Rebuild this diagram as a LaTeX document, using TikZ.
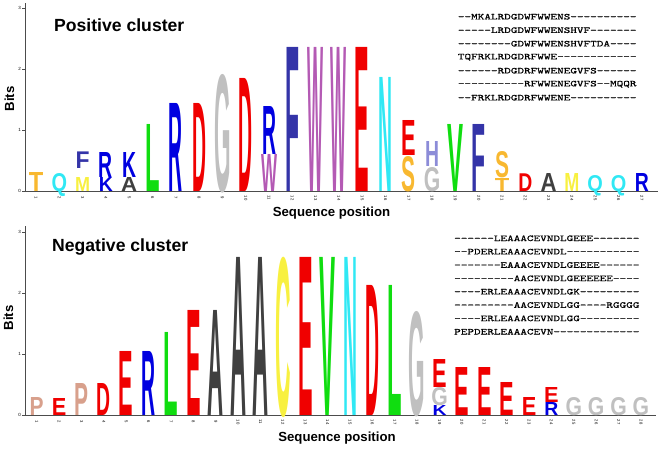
\documentclass[tikz,border=0pt]{standalone}
\usepackage{fontspec}
\usepackage{graphicx}
\setmainfont{Liberation Sans}
\newfontfamily\alfont[FakeStretch=1.4,FakeBold=0.6]{lmmono10-regular.otf}
\definecolor{cred}{HTML}{F00000}
\definecolor{cblue}{HTML}{0000E0}
\definecolor{cnavy}{HTML}{3434A8}
\definecolor{cpurp}{HTML}{B45AB4}
\definecolor{ccyan}{HTML}{30E8F4}
\definecolor{cgreen}{HTML}{10DD10}
\definecolor{cyell}{HTML}{F8F040}
\definecolor{corng}{HTML}{F8B830}
\definecolor{cgray}{HTML}{C0C0C0}
\definecolor{cdark}{HTML}{404040}
\definecolor{csalm}{HTML}{D8A08C}
\definecolor{cperi}{HTML}{8C8CD8}
\tikzset{
  logo/.style={anchor=base, inner sep=0pt, font=\bfseries},
  axisline/.style={draw=black!70, line width=1pt},
  xtick/.style={font=\fontsize{4.2}{5}\selectfont, rotate=-90, inner sep=0pt},
  ytick/.style={font=\fontsize{4.5}{5}\selectfont, inner sep=0pt, anchor=east},
  title/.style={font=\fontsize{17.6}{20}\selectfont\bfseries, anchor=west, inner sep=0pt},
  axlabel/.style={font=\fontsize{13.2}{15}\selectfont\bfseries, inner sep=0pt},
  align/.style={font=\alfont\fontsize{9}{10}\selectfont, anchor=west, inner sep=0pt}
}
\newcount\lgc
\newcommand\TL[6]{%
  \pgfmathsetmacro\lgx{36+(#1-1)*23.3}%
  \pgfmathsetmacro\lgw{#4-1.5}%
  \global\advance\lgc by 1\relax
  \edef\lgname{lg\the\lgc}%
  \node[logo, text=#6] (\lgname) at (\lgx,#2) {\resizebox{\lgw pt}{#3pt}{#5}};}
\newcommand\BL[6]{%
  \pgfmathsetmacro\lgx{36.7+(#1-1)*22.38}%
  \pgfmathsetmacro\lgw{#4-1.5}%
  \global\advance\lgc by 1\relax
  \edef\lgname{lg\the\lgc}%
  \node[logo, text=#6] (\lgname) at (\lgx,#2) {\resizebox{\lgw pt}{#3pt}{#5}};}
\begin{document}
\begin{tikzpicture}[x=1pt,y=-1pt]
\useasboundingbox (0,0) rectangle (662,448);
% ---------- Positive cluster ----------
\draw[axisline] (25,3) -- (25,191) -- (658,191);
\foreach \v in {0,1,2,3}{
  \draw[black!70, line width=0.6pt] (22,191-\v*61) -- (25,191-\v*61);
  \node[ytick] (ty\v) at (21,191-\v*61) {\v};
}
\foreach \i in {1,...,27}{
  \node[xtick] (tx\i) at ({36+(\i-1)*23.3},198) {\i};
}
\node[title] (ptitle) at (54,25) {Positive cluster};
\node[axlabel] (pxlab) at (331.5,213) {Sequence position};
\node[axlabel, rotate=90] (pylab) at (9.5,99) {Bits};
% letters: pos, bottom, height, width, letter, colour
\TL{1}{191}{19}{16}{T}{corng}
\TL{2}{191}{18}{17}{Q}{ccyan}
\TL{3}{191}{14}{16.5}{M}{cyell}
\TL{3}{168.3}{16.6}{15.5}{F}{cnavy}
\TL{4}{191}{14}{15.5}{K}{cblue}
\TL{4}{177}{25}{15.5}{R}{cblue}
\TL{5}{191}{14}{17.5}{A}{cdark}
\TL{5}{177}{25}{15.5}{K}{cblue}
\TL{6}{191}{67}{16}{L}{cgreen}
\TL{7}{191}{88}{15.5}{R}{cblue}
\TL{8}{191}{88}{15.5}{D}{cred}
\TL{9}{191}{117}{18}{G}{cgray}
\TL{10}{191}{113}{15.5}{D}{cred}
\TL{11}{191}{37}{17.5}{W}{cpurp}
\TL{11}{154}{48}{15.5}{R}{cblue}
\TL{12}{191}{144}{15.5}{F}{cnavy}
\TL{13}{191}{144}{17.5}{W}{cpurp}
\TL{14}{191}{144}{17.5}{W}{cpurp}
\TL{15}{191}{144}{16}{E}{cred}
\TL{16}{191}{114}{15.5}{N}{ccyan}
\TL{17}{191}{35}{15.5}{S}{corng}
\TL{17}{155}{35}{16}{E}{cred}
\TL{18}{191}{24}{18}{G}{cgray}
\TL{18}{166.7}{25}{15.5}{H}{cperi}
\TL{19}{191}{67}{17.5}{V}{cgreen}
\TL{20}{191}{67}{15.5}{F}{cnavy}
\TL{21}{191}{13}{16}{T}{corng}
\TL{21}{177.7}{26}{15.5}{S}{corng}
\TL{22}{191}{17.7}{15.5}{D}{cred}
\TL{23}{191}{18}{17.5}{A}{cdark}
\TL{24}{191}{18}{16.5}{M}{cyell}
\TL{25}{191}{16}{17}{Q}{ccyan}
\TL{26}{191}{16}{17}{Q}{ccyan}
\TL{27}{191}{18}{15.5}{R}{cblue}
% alignment
\foreach \t [count=\k] in {%
  --MKALRDGDWFWWENS----------,
  -----LRDGDWFWWENSHVF-------,
  --------GDWFWWENSHVFTDA----,
  TQFRKLRDGDRFWWE------------,
  ------RDGDRFWWENEGVFS------,
  ----------RFWWENEGVFS--MQQR,
  --FRKLRDGDRFWWENE----------}{
  \node[align] (pa\k) at (457.7,{16.7+(\k-1)*13.5}) {\t};
}
% ---------- Negative cluster ----------
\draw[axisline] (25,226) -- (25,415) -- (656,415);
\foreach \v in {0,1,2,3}{
  \draw[black!70, line width=0.6pt] (22,415-\v*61) -- (25,415-\v*61);
  \node[ytick] (by\v) at (21,415-\v*61) {\v};
}
\foreach \i in {1,...,28}{
  \node[xtick] (bx\i) at ({36.7+(\i-1)*22.38},422) {\i};
}
\node[title] (ntitle) at (52,246.7) {Negative cluster};
\node[axlabel] (nxlab) at (337,438) {Sequence position};
\node[axlabel, rotate=90] (nylab) at (8.5,318) {Bits};
\BL{1}{415}{18}{15.5}{P}{csalm}
\BL{2}{415}{17}{16}{E}{cred}
\BL{3}{415}{32}{15.5}{P}{csalm}
\BL{4}{415}{32}{15.5}{D}{cred}
\BL{5}{415}{64}{16}{E}{cred}
\BL{6}{415}{64}{15.5}{R}{cblue}
\BL{7}{415}{83}{16}{L}{cgreen}
\BL{8}{415}{105}{16}{E}{cred}
\BL{9}{415}{105}{17.5}{A}{cdark}
\BL{10}{415}{158}{17.5}{A}{cdark}
\BL{11}{415}{158}{17.5}{A}{cdark}
\BL{12}{415}{158}{17}{C}{cyell}
\BL{13}{415}{158}{16}{E}{cred}
\BL{14}{415}{158}{17.5}{V}{cgreen}
\BL{15}{415}{158}{15.5}{N}{ccyan}
\BL{16}{415}{130}{15.5}{D}{cred}
\BL{17}{415}{130}{16}{L}{cgreen}
\BL{18}{415}{104}{18}{G}{cgray}
\BL{19}{415}{10}{15.5}{K}{cblue}
\BL{19}{405}{18}{18}{G}{cgray}
\BL{19}{387}{28}{16}{E}{cred}
\BL{20}{415}{48}{16}{E}{cred}
\BL{21}{415}{48}{16}{E}{cred}
\BL{22}{415}{33}{16}{E}{cred}
\BL{23}{415}{18}{16}{E}{cred}
\BL{24}{415}{13}{15.5}{R}{cblue}
\BL{24}{402}{15}{16}{E}{cred}
\BL{25}{415}{18}{18}{G}{cgray}
\BL{26}{415}{18}{18}{G}{cgray}
\BL{27}{415}{18}{18}{G}{cgray}
\BL{28}{415}{18}{18}{G}{cgray}
\foreach \t [count=\k] in {%
  ------LEAAACEVNDLGEEE-------,
  --PDERLEAAACEVNDL-----------,
  -------EAAACEVNDLGEEEE------,
  ---------AACEVNDLGEEEEEE----,
  ----ERLEAAACEVNDLGK---------,
  ---------AACEVNDLGG----RGGGG,
  ----ERLEAAACEVNDLGG---------,
  PEPDERLEAAACEVN-------------}{
  \node[align] (na\k) at (454,{238.3+(\k-1)*13.35}) {\t};
}
\end{tikzpicture}
\end{document}
